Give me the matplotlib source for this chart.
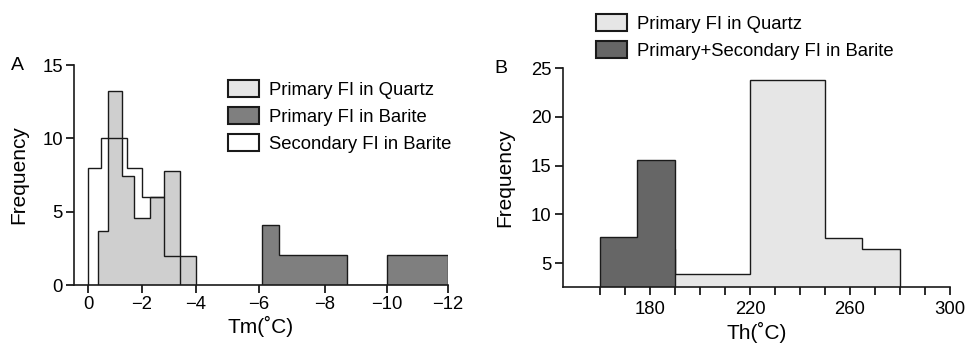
import numpy as np
import matplotlib
matplotlib.use("Agg")
import matplotlib.pyplot as plt
from matplotlib.patches import Patch

plt.rcParams['font.family'] = ['Liberation Sans', 'DejaVu Sans']

# ---------------- Data: panel A (Tm) ----------------
quartz_tm_edges = [-0.37, -0.75, -1.27, -1.71, -2.3, -2.8, -3.42, -4.0]
quartz_tm_counts = [3.7, 13.2, 7.45, 4.55, 6.0, 7.8, 2.0]

barite_tm_edges = [-6.1, -6.62, -8.72, -10.0, -12.0]
barite_tm_counts = [4.1, 2.05, 0.0, 2.05]

secondary_tm_edges = [0.0, -0.47, -1.45, -2.0, -2.8, -3.42]
secondary_tm_counts = [8.0, 10.0, 8.0, 6.0, 2.0]

tm_ticks = [0, -2, -4, -6, -8, -10, -12]
tm_ticklabels = ["0", "\u22122", "\u22124", "\u22126", "\u22128", "\u221210", "\u221212"]
freqA_ticks = [0, 5, 10, 15]

legendA_labels = ["Primary FI in Quartz", "Primary FI in Barite", "Secondary FI in Barite"]

# ---------------- Data: panel B (Th) ----------------
quartz_th_edges = [175, 190, 220, 250, 265, 280]
quartz_th_counts = [6.5, 3.95, 23.8, 7.6, 6.5]

barite_th_edges = [160, 175, 190]
barite_th_counts = [7.7, 15.6]

th_ticks = [160, 170, 180, 190, 200, 210, 220, 230, 240, 250, 260, 270, 280, 290, 300]
th_ticklabels = ["", "", "180", "", "", "", "220", "", "", "", "260", "", "", "", "300"]
freqB_ticks = [5, 10, 15, 20, 25]

legendB_labels = ["Primary FI in Quartz", "Primary+Secondary FI in Barite"]

# ---------------- Figure ----------------
W, H = 967, 347
fig = plt.figure(figsize=(W / 100, H / 100), dpi=100)
fig.patch.set_facecolor("white")


def px_axes(left, right, top, bottom):
    return fig.add_axes([left / W, (H - bottom) / H, (right - left) / W, (bottom - top) / H])


TICK_FS = 13.3
LABEL_FS = 15
EDGE = "#1a1a1a"

c_quartz_A = "#cfcfcf"
c_quartz_leg = "#e6e6e6"
c_barite_A = "#7f7f7f"
c_barite_B = "#666666"

# Piecewise axis mapping for panel A (the original axis is not uniform)
_xs = np.array([-13.0, -12.0, -10.0, -8.0, -6.0, -4.0, -2.0, 0.0, 1.0])
_ps = -np.array([509.0, 448.0, 387.0, 325.0, 259.0, 196.0, 142.0, 88.0, 61.0])


def fwd(x):
    return np.interp(x, _xs, _ps)


def inv(p):
    return np.interp(p, _ps, _xs)


# ---------------- Panel A ----------------
axA = px_axes(74, 448, 65, 285)
axA.set_xscale("function", functions=(fwd, inv))
axA.stairs(quartz_tm_counts, quartz_tm_edges, fill=True, facecolor=c_quartz_A,
           edgecolor=EDGE, linewidth=1.0, baseline=0)
axA.stairs(barite_tm_counts, barite_tm_edges, fill=True, facecolor=c_barite_A,
           edgecolor=EDGE, linewidth=1.0, baseline=0)
axA.stairs(secondary_tm_counts, secondary_tm_edges, fill=False,
           edgecolor=EDGE, linewidth=1.0, baseline=0)
axA.set_xlim(0.52, -12.0)
axA.set_ylim(0, 15)
axA.set_xticks(tm_ticks)
axA.set_xticklabels(tm_ticklabels)
axA.set_yticks(freqA_ticks)
axA.set_xlabel("Tm(\u02daC)", fontsize=LABEL_FS, labelpad=2)
axA.set_ylabel("Frequency", fontsize=LABEL_FS, labelpad=10)
axA.text(-0.15, 1.0, "A", transform=axA.transAxes, fontsize=14, ha="center", va="center")

handlesA = [
    Patch(facecolor=c_quartz_leg, edgecolor=EDGE, linewidth=1.5),
    Patch(facecolor=c_barite_A, edgecolor=EDGE, linewidth=1.5),
    Patch(facecolor="white", edgecolor=EDGE, linewidth=1.5),
]
fig.legend(handlesA, legendA_labels, loc="upper left",
           bbox_to_anchor=(228 / W, 1 - 80 / H), frameon=False, fontsize=TICK_FS,
           handlelength=1.7, handleheight=1.05, handletextpad=0.5,
           labelspacing=0.45, borderpad=0, borderaxespad=0)

# ---------------- Panel B ----------------
axB = px_axes(562.7, 950, 68, 287.3)
axB.stairs(quartz_th_counts, quartz_th_edges, fill=True, facecolor=c_quartz_leg,
           edgecolor=EDGE, linewidth=1.0, baseline=2.54)
axB.stairs(barite_th_counts, barite_th_edges, fill=True, facecolor=c_barite_B,
           edgecolor=EDGE, linewidth=1.0, baseline=2.54)
axB.set_xlim(145.1, 300)
axB.set_ylim(2.54, 25)
axB.set_xticks(th_ticks)
axB.set_xticklabels(th_ticklabels)
axB.set_yticks(freqB_ticks)
axB.set_xlabel("Th(\u02daC)", fontsize=LABEL_FS, labelpad=3)
axB.set_ylabel("Frequency", fontsize=LABEL_FS, labelpad=12)
axB.text(-0.16, 1.0, "B", transform=axB.transAxes, fontsize=14, ha="center", va="center")

handlesB = [
    Patch(facecolor=c_quartz_leg, edgecolor=EDGE, linewidth=1.5),
    Patch(facecolor=c_barite_B, edgecolor=EDGE, linewidth=1.5),
]
fig.legend(handlesB, legendB_labels, loc="upper left",
           bbox_to_anchor=(596 / W, 1 - 14 / H), frameon=False, fontsize=TICK_FS,
           handlelength=1.7, handleheight=1.05, handletextpad=0.5,
           labelspacing=0.45, borderpad=0, borderaxespad=0)

for ax in (axA, axB):
    for s in ("top", "right"):
        ax.spines[s].set_visible(False)
    for s in ("left", "bottom"):
        ax.spines[s].set_linewidth(1.2)
        ax.spines[s].set_color(EDGE)
    ax.tick_params(axis="both", labelsize=TICK_FS, width=1.3, color=EDGE)
    ax.tick_params(axis="y", length=6, pad=2)
axA.tick_params(axis="x", length=6, pad=2)
axB.tick_params(axis="x", length=6, pad=4)
for ax in (axA, axB):
    ax.set_facecolor("none")

fig.savefig("out.png", dpi=100, facecolor="white")
